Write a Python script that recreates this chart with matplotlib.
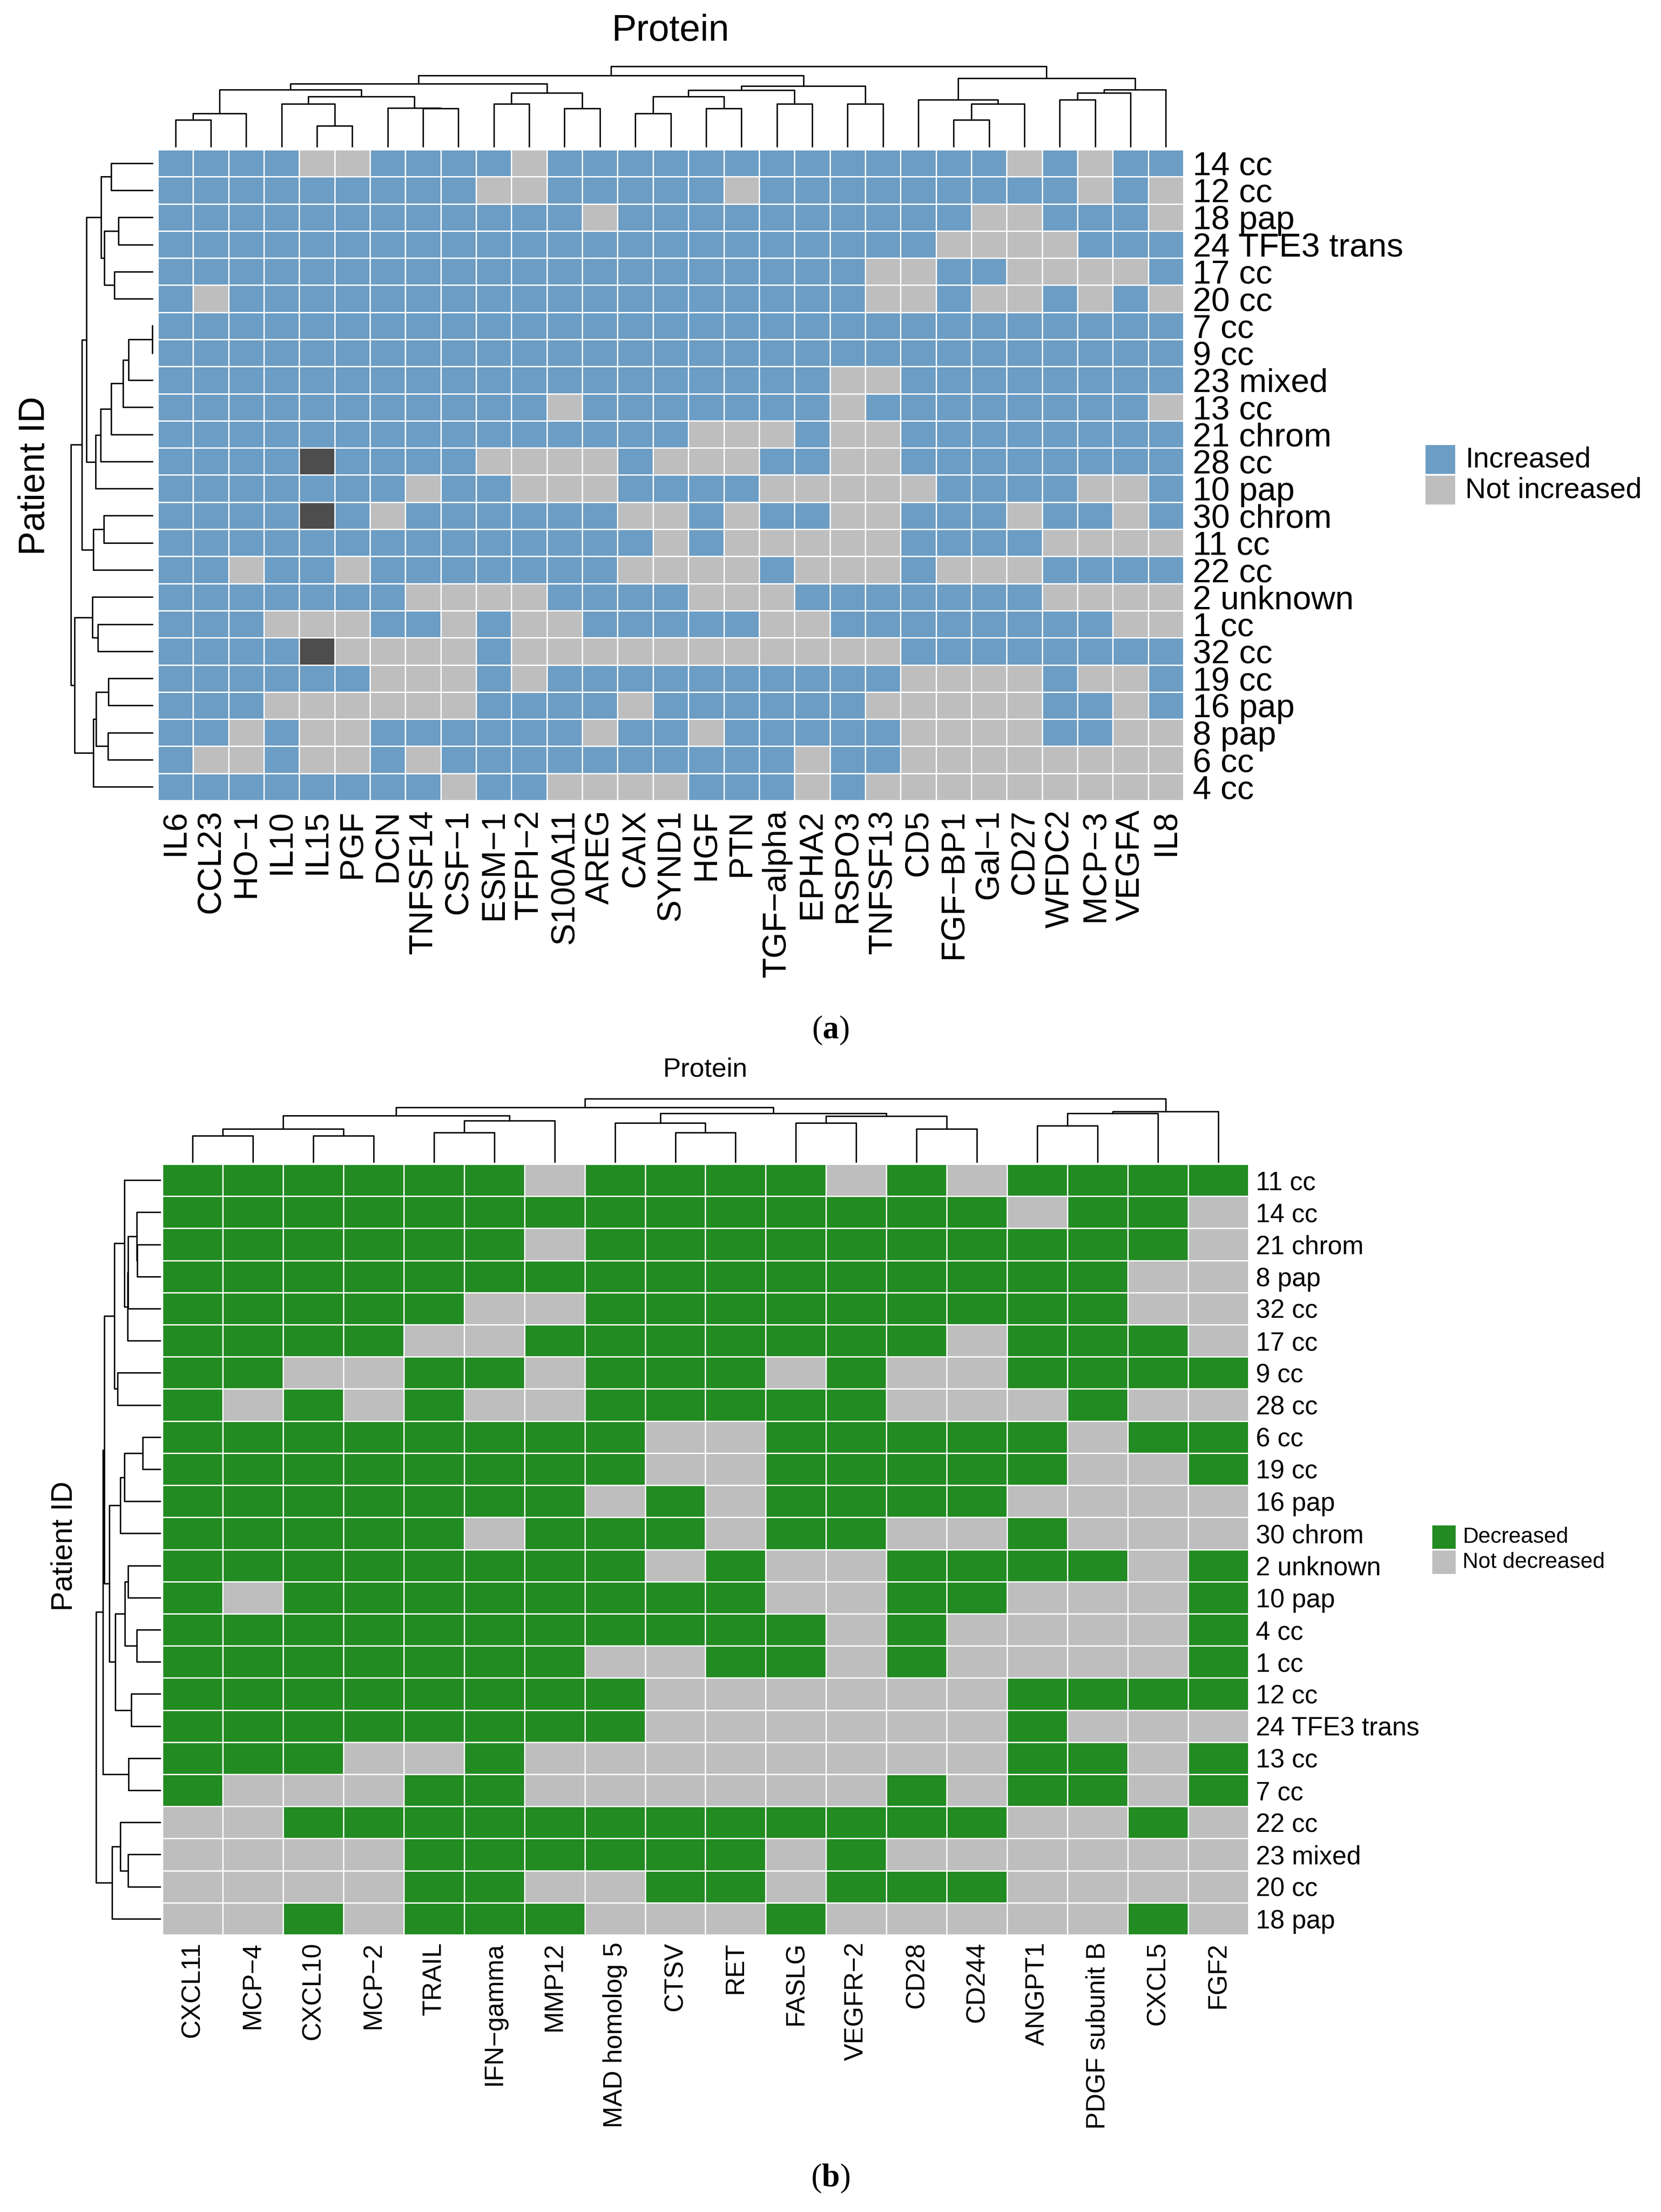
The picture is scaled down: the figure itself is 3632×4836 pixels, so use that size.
import numpy as np
import matplotlib
matplotlib.use("Agg")
import matplotlib.pyplot as plt
from matplotlib.colors import ListedColormap
from matplotlib.patches import Rectangle

W, H, DPI = 3632, 4836, 300

plt.rcParams["font.family"] = ["Liberation Sans", "DejaVu Sans"]
plt.rcParams["mathtext.fontset"] = "custom"
plt.rcParams["mathtext.rm"] = "Liberation Serif"
plt.rcParams["mathtext.bf"] = "Liberation Serif:bold"

# ---------------- panel (a): increased proteins ----------------
PROT_A = ["IL6", "CCL23", "HO−1", "IL10", "IL15", "PGF", "DCN", "TNFSF14",
          "CSF−1", "ESM−1", "TFPI−2", "S100A11", "AREG", "CAIX", "SYND1",
          "HGF", "PTN", "TGF−alpha", "EPHA2", "RSPO3", "TNFSF13", "CD5",
          "FGF−BP1", "Gal−1", "CD27", "WFDC2", "MCP−3", "VEGFA", "IL8"]
PAT_A = ["14 cc", "12 cc", "18 pap", "24 TFE3 trans", "17 cc", "20 cc",
         "7 cc", "9 cc", "23 mixed", "13 cc", "21 chrom", "28 cc", "10 pap",
         "30 chrom", "11 cc", "22 cc", "2 unknown", "1 cc", "32 cc", "19 cc",
         "16 pap", "8 pap", "6 cc", "4 cc"]
# 1 = increased, 0 = not increased, 2 = missing
CELLS_A = [
    "11110 01111 01111 11111 11110 1011",
    "11111 11110 01111 10111 11111 1010",
    "11111 11111 11011 11111 11100 1110",
    "11111 11111 11111 11111 11000 0111",
    "11111 11111 11111 11111 00110 0001",
    "10111 11111 11111 11111 00100 1010",
    "11111 11111 11111 11111 11111 1111",
    "11111 11111 11111 11111 11111 1111",
    "11111 11111 11111 11110 01111 1111",
    "11111 11111 10111 11110 11111 1110",
    "11111 11111 11111 00010 01111 1111",
    "11112 11110 00010 00110 01111 1111",
    "11111 11011 00011 11000 00111 1001",
    "11112 10111 11100 10110 01110 1101",
    "11111 11111 11110 10000 01111 0000",
    "11011 01111 11100 00100 01000 1111",
    "11111 11000 01111 00011 11111 0000",
    "11100 01101 00111 11001 11111 1100",
    "11112 00001 00000 00000 01111 1111",
    "11111 10001 01111 11111 10000 1001",
    "11100 00001 11101 11111 00000 1101",
    "11010 01111 11011 01111 10000 1100",
    "10010 01011 11111 11101 10000 0000",
    "11111 11101 10000 11101 00000 0000",
]
# dendrograms: (left id, right id, height); ids >= n refer to earlier merges
LINK_COL_A = [(0, 1, 175), (29, 2, 217), (4, 5, 135), (3, 31, 278),
              (7, 8, 250), (6, 33, 252), (32, 34, 328), (30, 35, 372),
              (9, 10, 278), (11, 12, 248), (37, 38, 352), (36, 39, 412),
              (13, 14, 217), (15, 16, 248), (41, 42, 328), (17, 18, 278),
              (43, 44, 370), (19, 20, 278), (45, 46, 395), (40, 47, 465),
              (22, 23, 175), (49, 24, 278), (21, 50, 305), (25, 26, 305),
              (52, 27, 352), (53, 28, 372), (51, 54, 448), (48, 55, 525)]
LINK_ROW_A = [(0, 1, 270), (2, 3, 222), (4, 5, 248), (25, 26, 315),
              (24, 27, 338), (6, 7, 0), (29, 8, 155), (30, 9, 192),
              (31, 10, 270), (32, 11, 340), (33, 12, 372), (28, 34, 432),
              (13, 14, 320), (36, 15, 388), (35, 37, 462), (17, 18, 357),
              (16, 39, 395), (19, 20, 290), (21, 22, 292), (41, 42, 370),
              (43, 23, 388), (40, 44, 510), (38, 45, 535)]
LEG_A = ["Increased", "Not increased"]
COLORS_A = ["#BEBEBE", "#6C9DC4", "#4D4D4D"]

# ---------------- panel (b): decreased proteins ----------------
PROT_B = ["CXCL11", "MCP−4", "CXCL10", "MCP−2", "TRAIL", "IFN−gamma",
          "MMP12", "MAD homolog 5", "CTSV", "RET", "FASLG", "VEGFR−2",
          "CD28", "CD244", "ANGPT1", "PDGF subunit B", "CXCL5", "FGF2"]
PAT_B = ["11 cc", "14 cc", "21 chrom", "8 pap", "32 cc", "17 cc", "9 cc",
         "28 cc", "6 cc", "19 cc", "16 pap", "30 chrom", "2 unknown",
         "10 pap", "4 cc", "1 cc", "12 cc", "24 TFE3 trans", "13 cc", "7 cc",
         "22 cc", "23 mixed", "20 cc", "18 pap"]
# 1 = decreased, 0 = not decreased
CELLS_B = [
    "111111 011110 101111",
    "111111 111111 110110",
    "111111 011111 111110",
    "111111 111111 111100",
    "111110 011111 111100",
    "111100 111111 101110",
    "110011 011101 001111",
    "101010 011111 000100",
    "111111 110011 111011",
    "111111 110011 111001",
    "111111 101011 110000",
    "111110 111011 001000",
    "111111 110100 111101",
    "101111 111100 110001",
    "111111 111110 100001",
    "111111 100110 100001",
    "111111 110000 001111",
    "111111 110000 001000",
    "111001 000000 001101",
    "100011 000000 101101",
    "001111 111111 110010",
    "000011 111101 000000",
    "000011 001101 110000",
    "001011 100010 000010",
]
LINK_COL_B = [(0, 1, 170), (2, 3, 170), (18, 19, 217), (4, 5, 193),
              (21, 6, 272), (20, 22, 303), (8, 9, 192), (7, 24, 255),
              (10, 11, 255), (12, 13, 217), (26, 27, 302), (25, 28, 318),
              (23, 29, 358), (14, 15, 237), (31, 16, 318), (32, 17, 332),
              (30, 33, 415)]
LINK_ROW_B = [(2, 3, 150), (1, 24, 152), (25, 4, 210), (26, 5, 212),
              (0, 27, 235), (6, 7, 280), (28, 29, 300), (8, 9, 115),
              (31, 10, 235), (32, 11, 260), (12, 13, 210), (14, 15, 152),
              (34, 35, 232), (16, 17, 188), (36, 37, 295), (33, 38, 332),
              (30, 39, 365), (18, 19, 208), (40, 41, 375), (21, 22, 210),
              (20, 43, 260), (44, 23, 315), (42, 45, 420)]
LEG_B = ["Decreased", "Not decreased"]
COLORS_B = ["#BEBEBE", "#228B22"]


def to_matrix(rows):
    return np.array([[int(c) for c in r.replace(" ", "")] for r in rows])


fig = plt.figure(figsize=(W / DPI, H / DPI), dpi=DPI)


def add_px(x0, y0, x1, y1):
    """Axes placed by pixel box (origin top-left)."""
    return fig.add_axes([x0 / W, 1 - y1 / H, (x1 - x0) / W, (y1 - y0) / H])


def dendro(ax, link, n, on_top):
    pos = [i + 0.5 for i in range(n)]
    hgt = [0.0] * n
    for a, b, h in link:
        xs = [pos[a], pos[a], pos[b], pos[b]]
        ys = [hgt[a], h, h, hgt[b]]
        if on_top:
            ax.plot(xs, ys, color="black", lw=0.75, clip_on=False)
        else:
            ax.plot(ys, xs, color="black", lw=0.75, clip_on=False)
        pos.append((pos[a] + pos[b]) / 2)
        hgt.append(h)
    top = max(h for _, _, h in link)
    if on_top:
        ax.set_xlim(0, n)
        ax.set_ylim(0, top)
    else:
        ax.set_xlim(top, 0)
        ax.set_ylim(n, 0)
    ax.axis("off")


def heat(box, cells, colors, rows, cols, fs, pad):
    ax = add_px(*box)
    m = to_matrix(cells)
    ax.pcolormesh(m, cmap=ListedColormap(colors), vmin=-0.5,
                  vmax=len(colors) - 0.5, edgecolors="white", linewidth=0.6)
    ax.set_xlim(0, m.shape[1])
    ax.set_ylim(m.shape[0], 0)
    ax.set_xticks(np.arange(m.shape[1]) + 0.5, cols, rotation=90, fontsize=fs)
    ax.yaxis.tick_right()
    ax.set_yticks(np.arange(m.shape[0]) + 0.5, rows, fontsize=fs)
    ax.tick_params(length=0, pad=pad)
    for s in ax.spines.values():
        s.set_visible(False)
    return ax


def legend(x, y, kw, kh, step, labels, colors, fs, tx):
    for i, (lab, col) in enumerate(zip(labels, colors)):
        yy = y + i * step
        fig.add_artist(Rectangle((x / W, 1 - (yy + kh) / H), kw / W, kh / H,
                                 transform=fig.transFigure, fc=col, ec="none"))
        fig.text(tx / W, 1 - (yy + kh / 2) / H, lab, fontsize=fs,
                 ha="left", va="center")


# panel (a)
heat((345, 327, 2588, 1750), CELLS_A, COLORS_A, PAT_A, PROT_A, 17.5, 4.8)
dendro(add_px(345, 145, 2588, 320), LINK_COL_A, len(PROT_A), True)
dendro(add_px(155, 327, 333, 1750), LINK_ROW_A, len(PAT_A), False)
fig.text(1466 / W, 1 - 68 / H, "Protein", fontsize=19.5, ha="center", va="center")
fig.text(77 / W, 1 - 1040 / H, "Patient ID", fontsize=19, rotation=90,
         ha="center", va="center")
legend(3117, 973, 65, 63, 67, LEG_A, COLORS_A[1::-1], 15, 3204)
fig.text(1816 / W, 1 - 2252 / H, r"($\mathbf{a}$)", fontsize=17,
         family="Liberation Serif", ha="center", va="center")

# panel (b)
heat((355, 2545, 2730, 4230), CELLS_B, COLORS_B, PAT_B, PROT_B, 13.6, 3.8)
dendro(add_px(355, 2402, 2730, 2540), LINK_COL_B, len(PROT_B), True)
dendro(add_px(210, 2545, 350, 4230), LINK_ROW_B, len(PAT_B), False)
fig.text(1542 / W, 1 - 2339 / H, "Protein", fontsize=14, ha="center", va="center")
fig.text(140 / W, 1 - 3380 / H, "Patient ID", fontsize=15.5, rotation=90,
         ha="center", va="center")
legend(3132, 3335, 51, 51, 55, LEG_B, COLORS_B[::-1], 11.5, 3198)
fig.text(1816 / W, 1 - 4762 / H, r"($\mathbf{b}$)", fontsize=17,
         family="Liberation Serif", ha="center", va="center")

fig.savefig("out.png", dpi=DPI)
